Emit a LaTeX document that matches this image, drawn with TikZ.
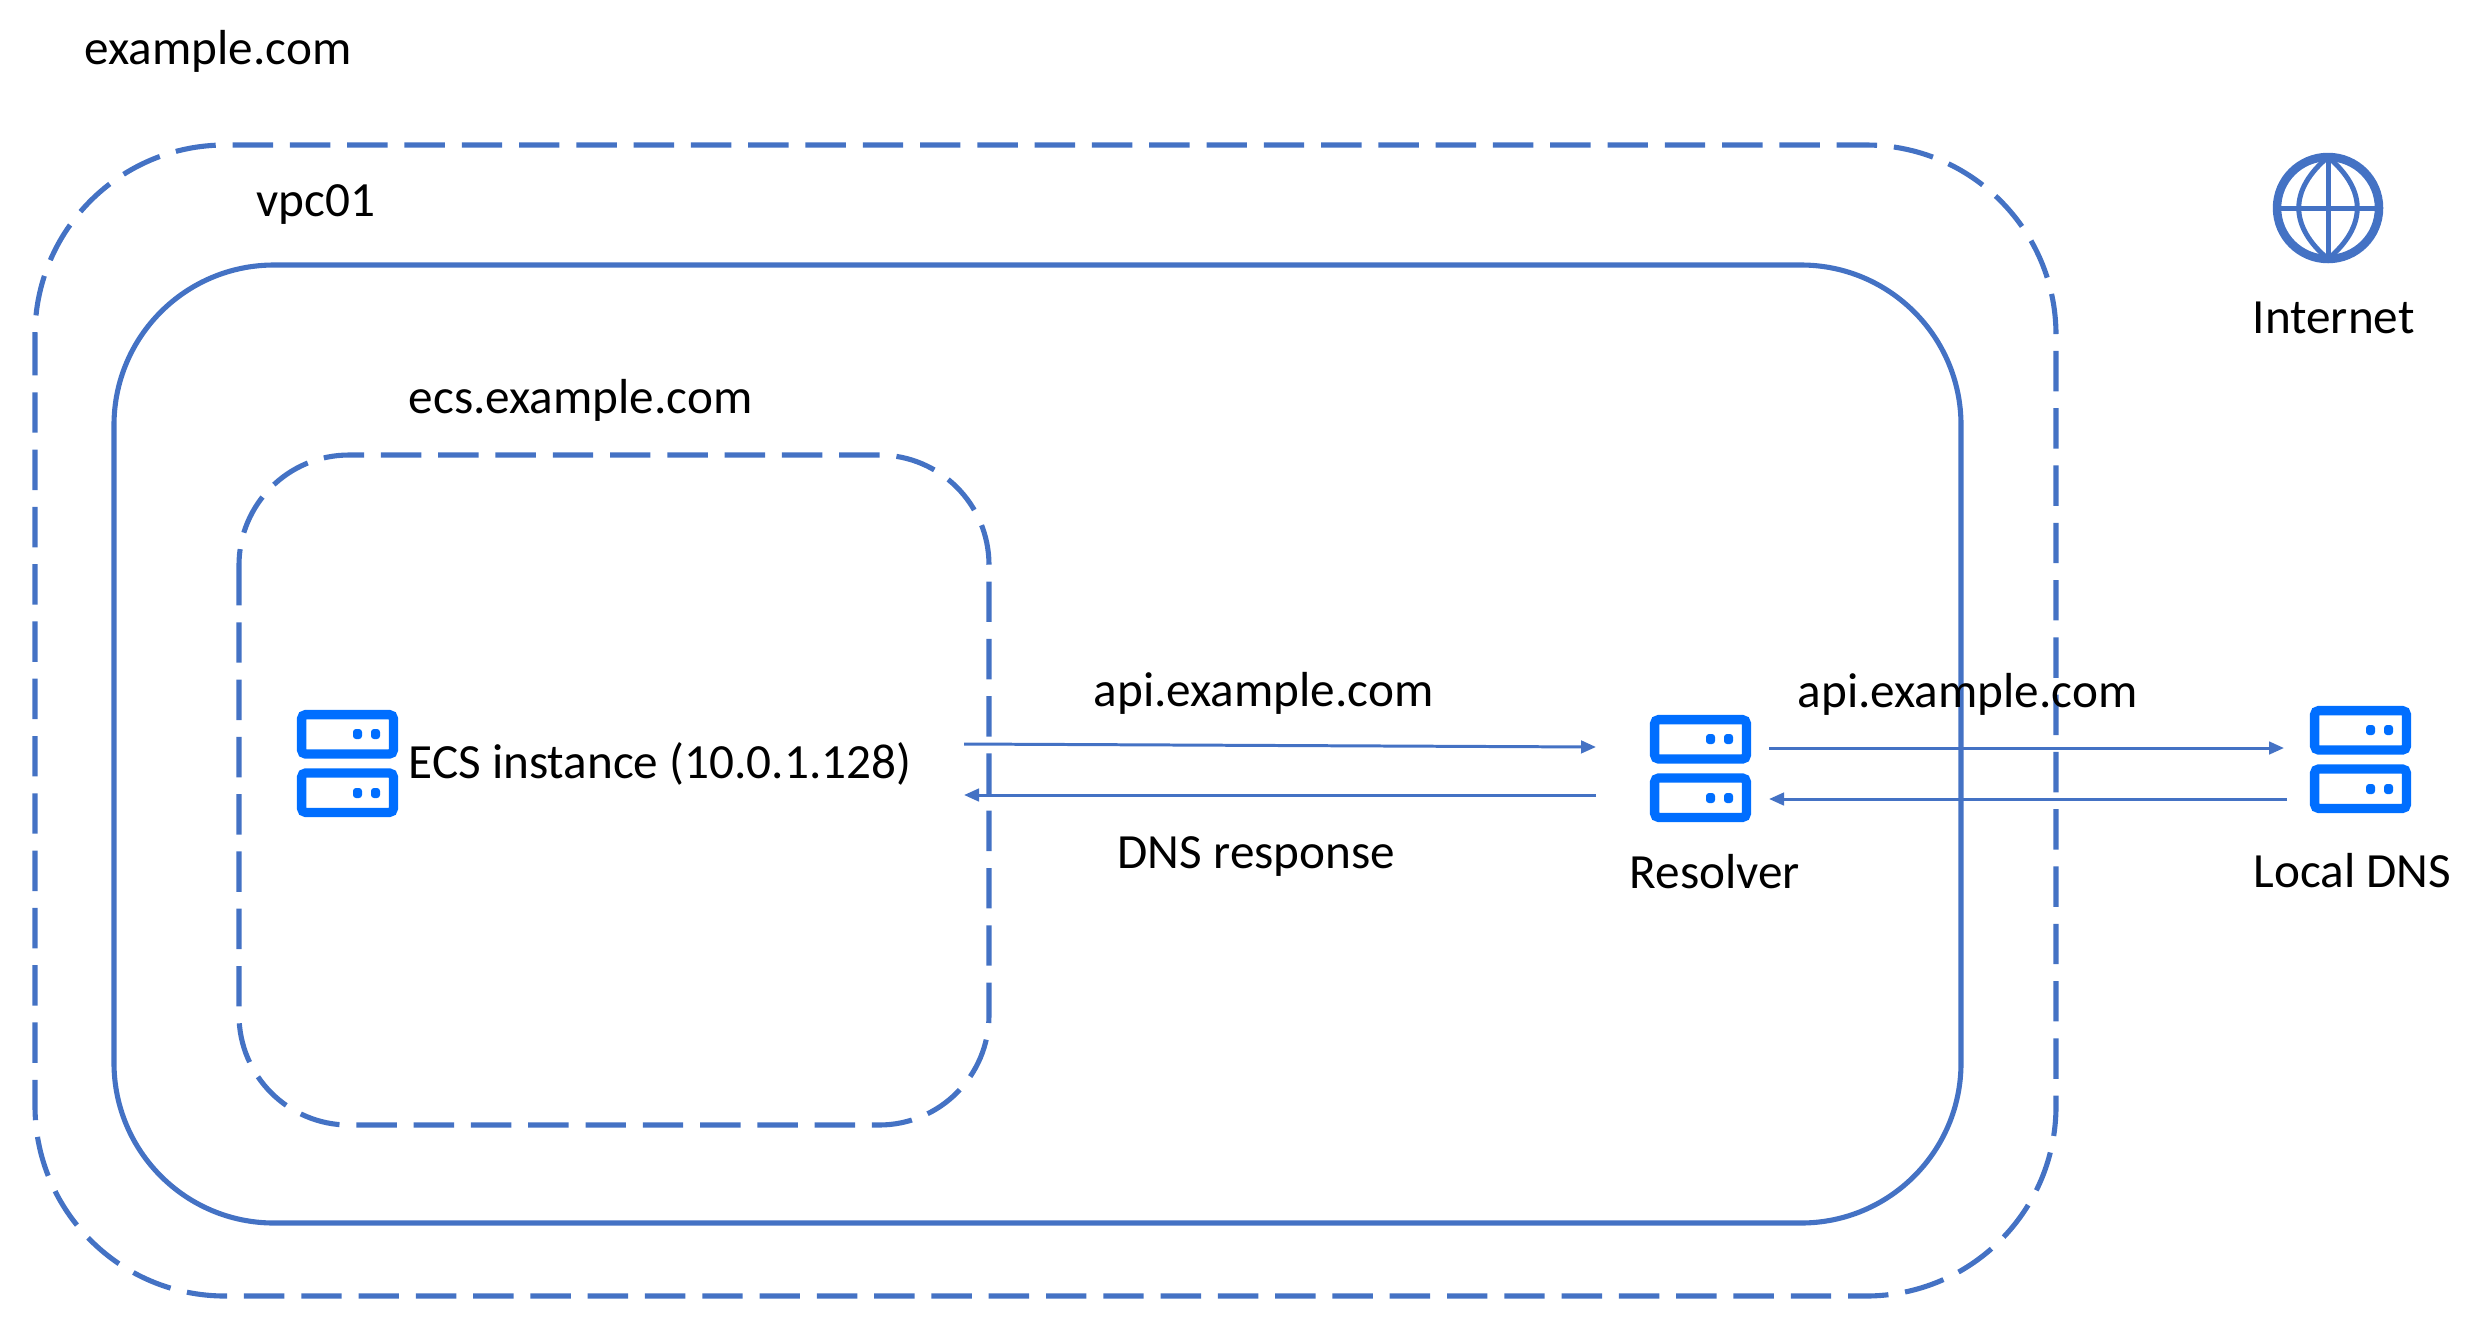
\documentclass[tikz,border=0pt]{standalone}
\usepackage{fontspec}
\setmainfont{Carlito}
\usepackage{xcolor}
\usetikzlibrary{positioning,arrows.meta}
\definecolor{ink}{RGB}{0,0,0}
\definecolor{accent}{RGB}{68,114,196}
\definecolor{iconblue}{RGB}{0,110,255}
\tikzset{
  zone/.style={draw=accent, line width=1.45pt, dash pattern=on 11.5pt off 4.8pt},
  solidzone/.style={draw=accent, line width=1.45pt},
  flow/.style={-{Triangle[length=1.5mm,width=1.25mm]}, line width=0.85pt, draw=accent},
  lbl/.style={font=\fontsize{14}{17}\selectfont, text=ink, inner sep=0pt, anchor=west},
  server/.pic={
    \draw[iconblue, line width=0.93mm, rounded corners=0.4mm] (4.6,4.6) rectangle (96.4,44);
    \fill[iconblue, rounded corners=0.3mm] (56,19) rectangle (65,29);
    \fill[iconblue, rounded corners=0.3mm] (74,19) rectangle (83,29);
    \draw[iconblue, line width=0.93mm, rounded corners=0.4mm] (4.6,63) rectangle (96.4,102.4);
    \fill[iconblue, rounded corners=0.3mm] (56,78) rectangle (65,88);
    \fill[iconblue, rounded corners=0.3mm] (74,78) rectangle (83,88);
  },
}
\begin{document}
\begin{tikzpicture}[x=0.1mm,y=-0.1mm]
  \useasboundingbox (0,0) rectangle (2478,1332);
  \draw[zone, rounded corners=19mm] (35,145) rectangle (2056,1296);
  \draw[solidzone, rounded corners=16mm] (114,265) rectangle (1961,1223);
  \draw[zone, rounded corners=11mm] (239,455) rectangle (989,1125);

  \pic at (297,710) {server};
  \pic at (1650,715) {server};
  \pic at (2310,706) {server};

  \draw[accent, line width=0.85mm] (2328,208) circle (5.1mm);
  \draw[accent, line width=0.5mm] (2328,157) -- (2328,259);
  \draw[accent, line width=0.5mm] (2277,208) -- (2379,208);
  \draw[accent, line width=0.5mm] (2328,157) .. controls (2289,190) and (2289,226) .. (2328,259)
    .. controls (2367,226) and (2367,190) .. (2328,157);

  \node[lbl] (domain) at (84,51) {example.com};
  \node[lbl] (vpc) at (256,204) {vpc01};
  \node[lbl] (ecsname) at (408,400) {ecs.example.com};
  \node[lbl] (ecs) at (408,764) {ECS instance (10.0.1.128)};
  \node[lbl] (query) at (1093,693) {api.example.com};
  \node[lbl] (answer) at (1117,856) {DNS response};
  \node[lbl] (resolver) at (1629,872) {Resolver};
  \node[lbl] (forward) at (1797,694) {api.example.com};
  \node[lbl] (localdns) at (2253,871) {Local DNS};
  \node[lbl] (internet) at (2252,318) {Internet};

  \coordinate (ecsout) at (964,744);
  \coordinate (ecsin) at (964,795);
  \coordinate (resin) at (1596,747);
  \coordinate (resback) at (1596,795);
  \coordinate (resout) at (1769,748);
  \coordinate (resret) at (1769,799);
  \coordinate (dnsin) at (2284,748);
  \coordinate (dnsout) at (2287,799);
  \draw[flow] (ecsout) -- (resin);
  \draw[flow] (resback) -- (ecsin);
  \draw[flow] (resout) -- (dnsin);
  \draw[flow] (dnsout) -- (resret);
\end{tikzpicture}
\end{document}
